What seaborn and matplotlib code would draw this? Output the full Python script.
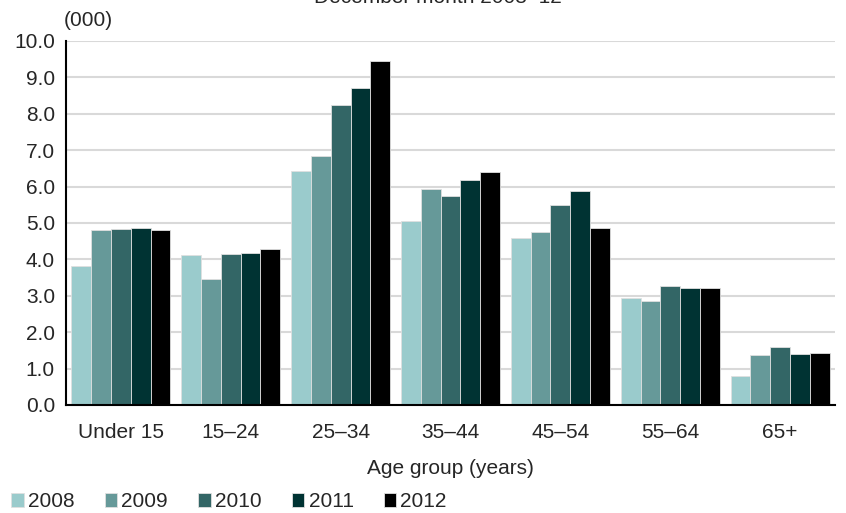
import pandas as pd
import matplotlib.pyplot as plt
import seaborn as sns

# valores (miles)
grupos = ["Under 15", "15–24", "25–34", "35–44", "45–54", "55–64", "65+"]
anios = ["2008", "2009", "2010", "2011", "2012"]
v2008 = [3.83, 4.11, 6.44, 5.06, 4.60, 2.95, 0.81]
v2009 = [4.82, 3.46, 6.84, 5.93, 4.74, 2.87, 1.36]
v2010 = [4.83, 4.14, 8.23, 5.73, 5.50, 3.26, 1.58]
v2011 = [4.87, 4.18, 8.70, 6.18, 5.88, 3.22, 1.40]
v2012 = [4.82, 4.28, 9.46, 6.41, 4.86, 3.22, 1.43]
colores = ["#9ACBCC", "#669999", "#336666", "#003333", "#000000"]

filas = []
for anio, vals in zip(anios, [v2008, v2009, v2010, v2011, v2012]):
    for g, v in zip(grupos, vals):
        filas.append({"grupo": g, "anio": anio, "valor": v})
df = pd.DataFrame(filas)

sns.set_theme(style="white")
plt.rcParams["font.family"] = ["Liberation Sans", "DejaVu Sans"]
fs = 15

fig = plt.figure(figsize=(8.46, 5.13), dpi=100)
ax = fig.add_axes([66 / 846, 1 - 405 / 513, 769 / 846, 364 / 513])

sns.barplot(data=df, x="grupo", y="valor", hue="anio", palette=colores,
            width=0.9, gap=0, edgecolor="#E0E0E0", linewidth=0.6,
            saturation=1, ax=ax, zorder=3)

ax.set_ylim(0, 10)
ax.set_yticks([i for i in range(11)])
ax.set_yticklabels([f"{i:.1f}" for i in range(11)], fontsize=fs)
ax.tick_params(axis="x", labelsize=fs, pad=13, length=0)
ax.tick_params(axis="y", pad=8, length=0)
ax.set_xlim(-0.5, 6.5)
ax.yaxis.grid(True, color="#D9D9D9", linewidth=1.5, zorder=0)
ax.set_axisbelow(True)
for s in ["top", "right"]:
    ax.spines[s].set_visible(False)
for s in ["left", "bottom"]:
    ax.spines[s].set_color("black")
    ax.spines[s].set_linewidth(1.5)
    ax.spines[s].set_zorder(5)

ax.set_xlabel("Age group (years)", fontsize=fs, labelpad=12)
ax.set_ylabel("")
ax.text(-0.003, 1.03, "(000)", transform=ax.transAxes, fontsize=fs, ha="left", va="bottom")
fig.text(438 / 846, 1.024, "December month 2008–12", fontsize=fs, ha="center", va="top")

ax.legend(loc="lower left", bbox_to_anchor=(-63 / 769, -0.315), ncol=5,
          frameon=False, fontsize=fs, handlelength=0.6, handleheight=0.6,
          handletextpad=0.2, columnspacing=1.45, borderaxespad=0)

plt.savefig("out.png", dpi=100)
plt.close()
